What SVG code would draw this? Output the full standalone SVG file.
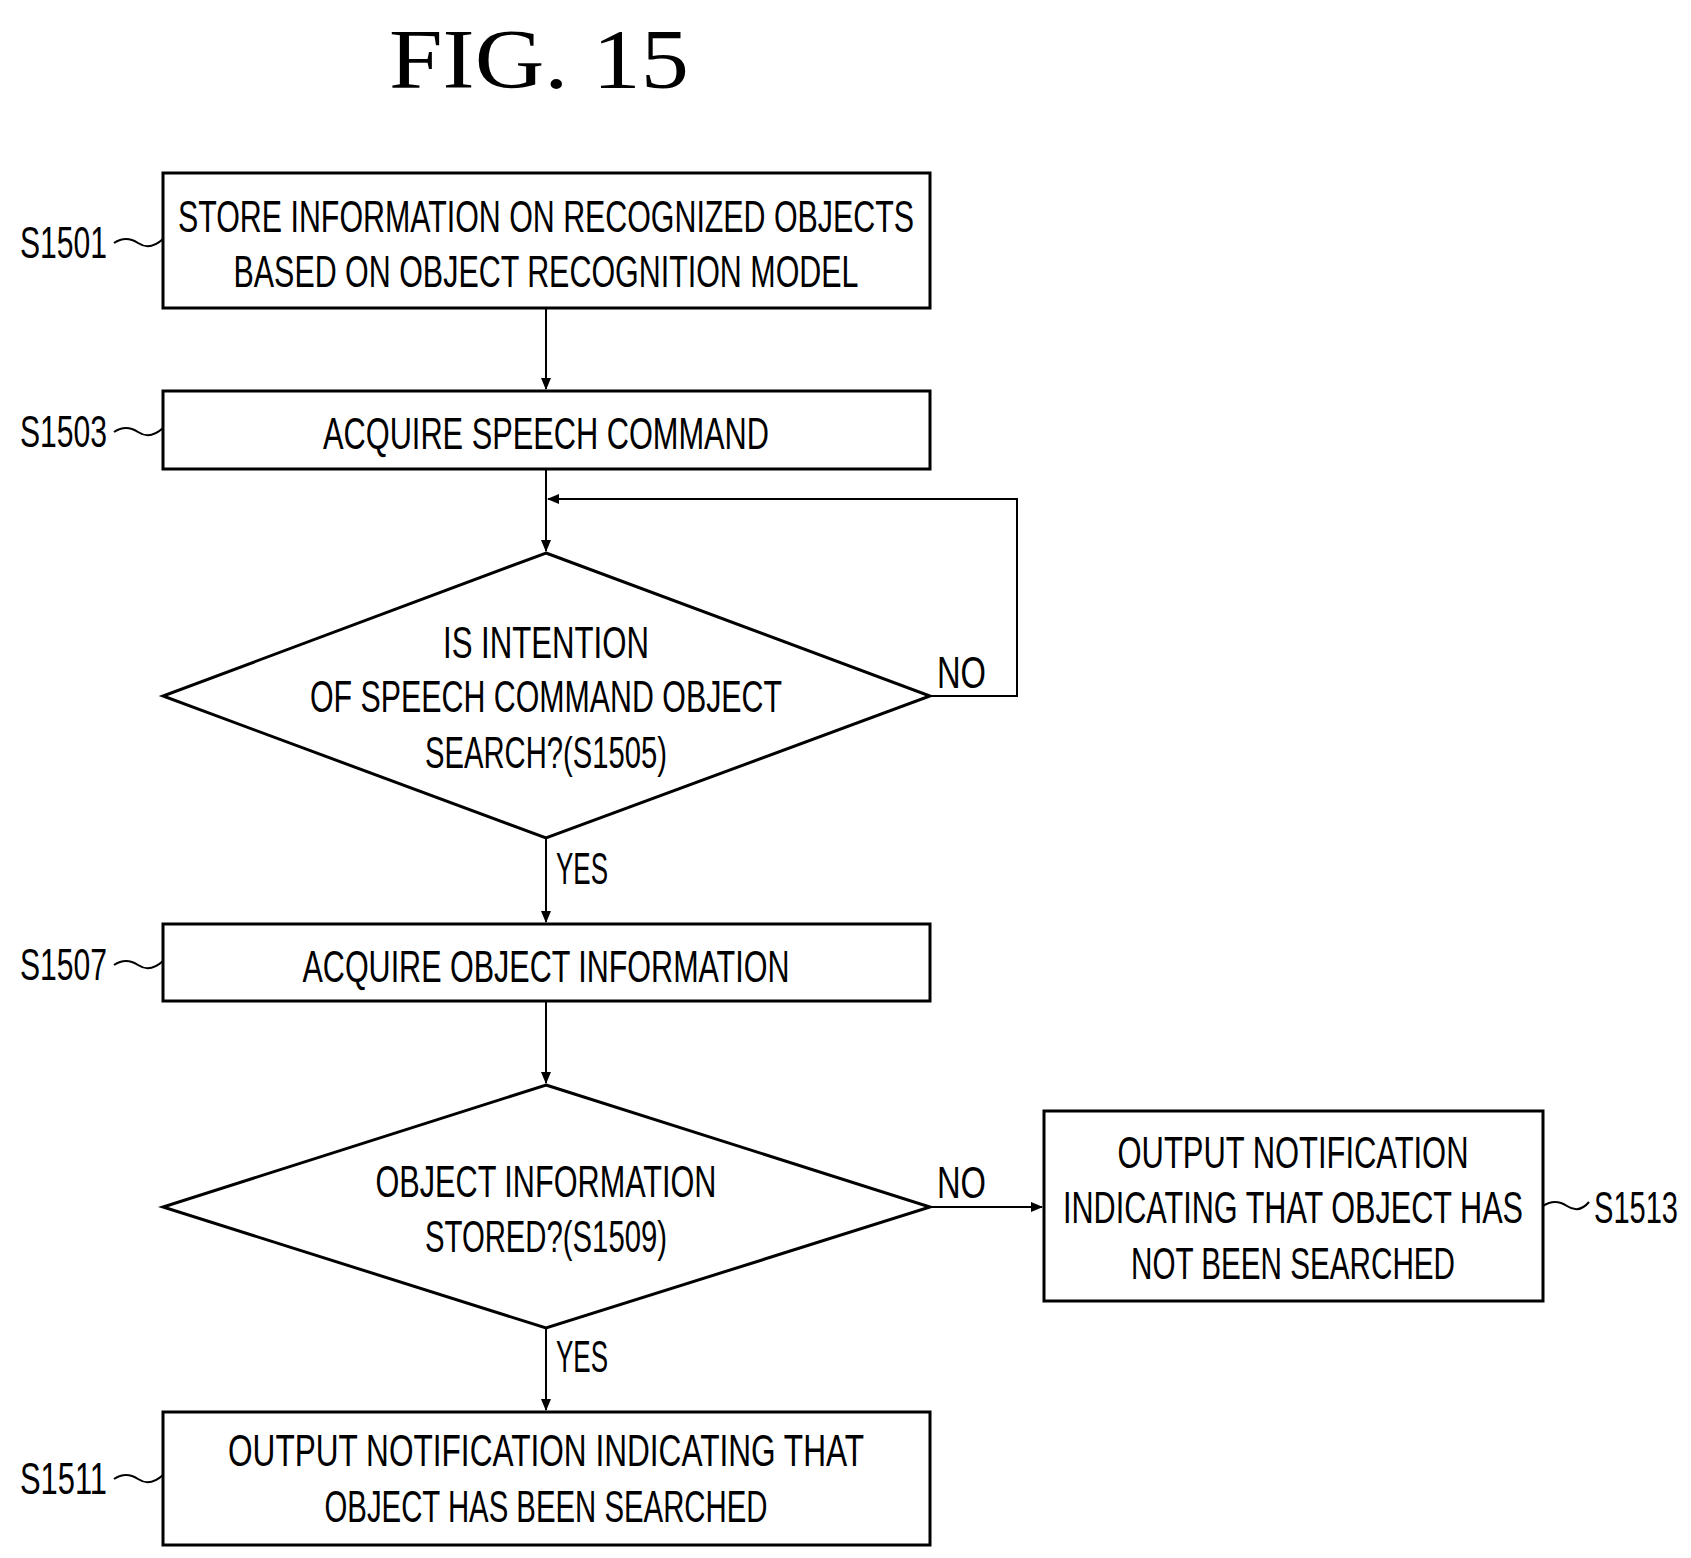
<svg xmlns="http://www.w3.org/2000/svg" width="1691" height="1558" viewBox="0 0 1691 1558">
<defs>
<marker id="ah" markerWidth="12" markerHeight="12" refX="11" refY="6" orient="auto" markerUnits="userSpaceOnUse"><path d="M0,1 L12,6 L0,11 Z" fill="#000"/></marker>
<style>
.s{fill:#fff;stroke:#000;stroke-width:3}
.t{font-family:"Liberation Sans",Arial,sans-serif;font-size:44px;fill:#000;text-anchor:middle}
.l{font-family:"Liberation Sans",Arial,sans-serif;font-size:44px;fill:#000}
.c{fill:none;stroke:#000;stroke-width:2}
</style>
</defs>
<rect width="1691" height="1558" fill="#fff"/>
<text x="539" y="88" font-family="Liberation Serif,serif" font-size="84" text-anchor="middle" textLength="300" lengthAdjust="spacingAndGlyphs">FIG. 15</text>
<g id="connectors">
<line class="c" x1="546" y1="308" x2="546" y2="389" marker-end="url(#ah)"/>
<line class="c" x1="546" y1="469" x2="546" y2="551" marker-end="url(#ah)"/>
<polyline class="c" points="930,696 1017,696 1017,499 548,499" marker-end="url(#ah)"/>
<line class="c" x1="546" y1="838" x2="546" y2="922" marker-end="url(#ah)"/>
<line class="c" x1="546" y1="1001" x2="546" y2="1083" marker-end="url(#ah)"/>
<line class="c" x1="546" y1="1328" x2="546" y2="1410" marker-end="url(#ah)"/>
<line class="c" x1="930" y1="1207" x2="1042" y2="1207" marker-end="url(#ah)"/>
<path class="c" d="M114,243 q12,-8 24,0 t25,-4"/>
<path class="c" d="M114,432 q12,-8 24,0 t25,-4"/>
<path class="c" d="M114,965 q12,-8 24,0 t25,-4"/>
<path class="c" d="M114,1479 q12,-8 24,0 t25,-4"/>
<path class="c" d="M1543,1206 q12,-8 24,0 t22,-4"/>
<text class="l" x="937" y="688" textLength="49" lengthAdjust="spacingAndGlyphs">NO</text>
<text class="l" x="937" y="1198" textLength="49" lengthAdjust="spacingAndGlyphs">NO</text>
<text class="l" x="556" y="884" textLength="52" lengthAdjust="spacingAndGlyphs">YES</text>
<text class="l" x="556" y="1372" textLength="52" lengthAdjust="spacingAndGlyphs">YES</text>
</g>
<g id="S1501">
<rect class="s" x="163" y="173" width="767" height="135"/>
<text class="t" x="546" y="232" textLength="736" lengthAdjust="spacingAndGlyphs">STORE INFORMATION ON RECOGNIZED OBJECTS</text>
<text class="t" x="546" y="287" textLength="625" lengthAdjust="spacingAndGlyphs">BASED ON OBJECT RECOGNITION MODEL</text>
<text class="l" x="20" y="258" textLength="87" lengthAdjust="spacingAndGlyphs">S1501</text>
</g>
<g id="S1503">
<rect class="s" x="163" y="391" width="767" height="78"/>
<text class="t" x="546" y="449" textLength="446" lengthAdjust="spacingAndGlyphs">ACQUIRE SPEECH COMMAND</text>
<text class="l" x="20" y="447" textLength="87" lengthAdjust="spacingAndGlyphs">S1503</text>
</g>
<g id="S1505">
<polygon class="s" points="546,553 930,696 546,838 163,696"/>
<text class="t" x="546" y="658" textLength="206" lengthAdjust="spacingAndGlyphs">IS INTENTION</text>
<text class="t" x="546" y="712" textLength="472" lengthAdjust="spacingAndGlyphs">OF SPEECH COMMAND OBJECT</text>
<text class="t" x="546" y="768" textLength="242" lengthAdjust="spacingAndGlyphs">SEARCH?(S1505)</text>
</g>
<g id="S1507">
<rect class="s" x="163" y="924" width="767" height="77"/>
<text class="t" x="546" y="982" textLength="487" lengthAdjust="spacingAndGlyphs">ACQUIRE OBJECT INFORMATION</text>
<text class="l" x="20" y="980" textLength="87" lengthAdjust="spacingAndGlyphs">S1507</text>
</g>
<g id="S1509">
<polygon class="s" points="546,1085 930,1207 546,1328 163,1207"/>
<text class="t" x="546" y="1197" textLength="341" lengthAdjust="spacingAndGlyphs">OBJECT INFORMATION</text>
<text class="t" x="546" y="1252" textLength="242" lengthAdjust="spacingAndGlyphs">STORED?(S1509)</text>
</g>
<g id="S1513">
<rect class="s" x="1044" y="1111" width="499" height="190"/>
<text class="t" x="1293" y="1168" textLength="351" lengthAdjust="spacingAndGlyphs">OUTPUT NOTIFICATION</text>
<text class="t" x="1293" y="1223" textLength="460" lengthAdjust="spacingAndGlyphs">INDICATING THAT OBJECT HAS</text>
<text class="t" x="1293" y="1279" textLength="324" lengthAdjust="spacingAndGlyphs">NOT BEEN SEARCHED</text>
<text class="l" x="1594" y="1223" textLength="84" lengthAdjust="spacingAndGlyphs">S1513</text>
</g>
<g id="S1511">
<rect class="s" x="163" y="1412" width="767" height="133"/>
<text class="t" x="546" y="1466" textLength="636" lengthAdjust="spacingAndGlyphs">OUTPUT NOTIFICATION INDICATING THAT</text>
<text class="t" x="546" y="1522" textLength="443" lengthAdjust="spacingAndGlyphs">OBJECT HAS BEEN SEARCHED</text>
<text class="l" x="20" y="1494" textLength="87" lengthAdjust="spacingAndGlyphs">S1511</text>
</g>
</svg>
